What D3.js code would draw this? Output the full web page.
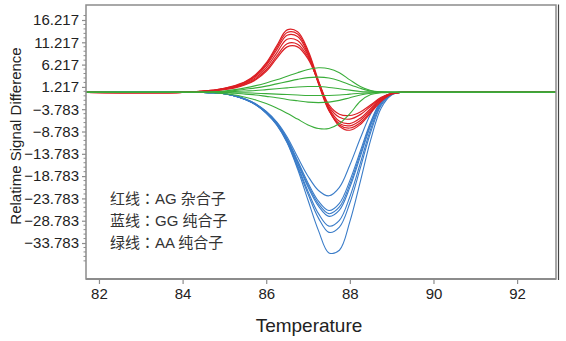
<!DOCTYPE html>
<html>
<head>
<meta charset="utf-8">
<script src="https://cdn.jsdelivr.net/npm/d3@7"></script>
<style>
  html, body { margin: 0; padding: 0; background: #fff; }
  svg { display: block; font-family: "Liberation Sans", Arial, "Noto Sans CJK SC", sans-serif; }
</style>
</head>
<body>
<svg id="chart" width="566" height="341"></svg>
<script>
// ---- data ----
const temps = [81.7, 84.0, 84.5, 84.75, 85.0, 85.25, 85.5, 85.75, 86.0, 86.25, 86.5, 86.75, 87.0, 87.25, 87.5, 87.75, 88.0, 88.25, 88.5, 88.75, 89.0, 89.25, 89.75, 92.93];

const redSeries = [
  [0, 0, 0.3, 0.5, 0.9, 1.5, 2.4, 4.0, 6.6, 10.4, 14.0, 13.6, 9.4, 2.6, -3.8, -7.6, -8.5, -7.2, -4.6, -2.0, -0.4, 0, 0, 0],
  [0, 0, 0.3, 0.5, 0.9, 1.4, 2.3, 3.8, 6.3, 10.0, 13.4, 13.1, 9.0, 2.2, -4.0, -7.3, -8.0, -6.8, -4.3, -1.8, -0.3, 0, 0, 0],
  [0, 0, 0.2, 0.4, 0.8, 1.3, 2.1, 3.6, 6.0, 9.5, 12.8, 12.5, 8.6, 1.9, -4.1, -7.0, -7.5, -6.3, -3.9, -1.6, -0.3, 0, 0, 0],
  [0, 0, 0.2, 0.4, 0.8, 1.2, 2.0, 3.3, 5.5, 8.8, 11.9, 11.6, 8.3, 2.1, -3.6, -6.5, -7.0, -5.8, -3.6, -1.5, -0.3, 0, 0, 0],
  [0, 0, 0.2, 0.4, 0.7, 1.1, 1.8, 3.0, 5.0, 8.1, 10.9, 10.8, 7.9, 2.3, -3.2, -5.6, -6.0, -5.0, -3.1, -1.3, -0.2, 0, 0, 0],
  [0, 0, 0.2, 0.3, 0.6, 1.0, 1.7, 2.8, 4.7, 7.6, 10.2, 10.2, 7.5, 2.4, -2.8, -4.9, -5.2, -4.4, -2.8, -1.1, -0.2, 0, 0, 0]
];

const blueSeries = [
  [0, 0, 0, -0.1, -0.3, -0.8, -1.5, -2.6, -4.3, -6.6, -10.0, -14.5, -18.8, -22.0, -23.2, -21.3, -16.3, -10.3, -4.8, -1.3, -0.2, 0, 0, 0],
  [0, 0, 0, -0.1, -0.3, -0.8, -1.5, -2.6, -4.3, -6.8, -10.4, -15.3, -20.3, -24.4, -26.5, -24.9, -19.8, -13.2, -6.6, -1.9, -0.3, 0, 0, 0],
  [0, 0, 0, -0.1, -0.3, -0.8, -1.6, -2.7, -4.4, -6.9, -10.6, -15.6, -20.8, -25.0, -27.2, -25.7, -20.6, -13.8, -7.0, -2.1, -0.3, 0, 0, 0],
  [0, 0, 0, -0.1, -0.3, -0.8, -1.6, -2.7, -4.5, -7.0, -10.8, -15.9, -21.2, -25.5, -27.8, -26.4, -21.3, -14.4, -7.4, -2.3, -0.4, 0, 0, 0],
  [0, 0, 0, -0.1, -0.3, -0.8, -1.6, -2.8, -4.6, -7.2, -11.0, -16.4, -22.2, -27.2, -30.0, -28.7, -23.4, -15.9, -8.2, -2.6, -0.4, 0, 0, 0],
  [0, 0, 0, -0.1, -0.3, -0.8, -1.6, -2.8, -4.6, -7.2, -11.2, -16.8, -22.8, -28.2, -31.4, -30.2, -24.8, -17.0, -8.9, -2.9, -0.5, 0, 0, 0],
  [0, 0, 0, -0.1, -0.3, -0.8, -1.6, -2.8, -4.7, -7.3, -11.3, -17.2, -24.2, -31.0, -36.0, -35.4, -29.0, -20.0, -10.6, -3.5, -0.6, 0, 0, 0]
];

const greenSeries = [
  [0, 0, 0, 0.1, 0.3, 0.6, 1.0, 1.5, 2.1, 2.8, 3.6, 4.4, 5.1, 5.5, 5.3, 4.4, 2.8, 1.3, 0.4, 0.1, 0, 0, 0, 0],
  [0, 0, 0, 0.1, 0.2, 0.4, 0.7, 1.0, 1.4, 1.9, 2.4, 2.9, 3.3, 3.4, 3.2, 2.6, 1.7, 0.9, 0.3, 0.1, 0, 0, 0, 0],
  [0, 0, 0, 0, 0.1, 0.2, 0.3, 0.4, 0.6, 0.8, 1.0, 1.2, 1.3, 1.3, 1.1, 0.8, 0.5, 0.2, 0.1, 0, 0, 0, 0, 0],
  [0, 0, 0, 0, 0, -0.1, -0.1, -0.2, -0.3, -0.4, -0.5, -0.6, -0.7, -0.7, -0.7, -0.6, -0.4, -0.2, -0.1, 0, 0, 0, 0, 0],
  [0, 0, 0, 0, -0.1, -0.2, -0.4, -0.6, -0.9, -1.2, -1.6, -1.9, -2.2, -2.3, -2.2, -1.8, -1.2, -0.6, -0.2, 0, 0, 0, 0, 0],
  [0, 0, 0, -0.1, -0.3, -0.6, -1.1, -1.7, -2.5, -3.5, -4.7, -6.0, -7.3, -8.1, -8.1, -7.0, -4.8, -2.0, -0.5, -0.1, 0, 0, 0, 0]
];

const xTickValues = [82, 84, 86, 88, 90, 92];
const yTickValues = [16.217, 11.217, 6.217, 1.217, -3.783, -8.783, -13.783, -18.783, -23.783, -28.783, -33.783];
const legendLines = ["红线：AG 杂合子", "蓝线：GG 纯合子", "绿线：AA 纯合子"];
const xTitle = "Temperature";
const yTitle = "Relatime Signal Difference";

// ---- layout ----
const svg = d3.select("#chart");
const L = 86, T = 5, R = 556, B = 279;

const x = d3.scaleLinear().domain([81.69, 92.93]).range([L, R]);
const y = d3.scaleLinear().domain([-41.85, 19.58]).range([B, T]);

const line = d3.line()
  .x((d, i) => x(temps[i]))
  .y(d => y(d))
  .curve(d3.curveCatmullRom.alpha(0.5));

const plot = svg.append("g");

function drawSeries(series, color, w) {
  plot.selectAll(null).data(series).enter().append("path")
    .attr("d", line)
    .attr("fill", "none")
    .attr("stroke", color)
    .attr("stroke-width", w);
}
drawSeries(blueSeries, "#3a7cc8", 1.1);
drawSeries(redSeries, "#dc1f24", 1.2);
drawSeries(greenSeries, "#3aad3a", 1.1);

// frame
svg.append("rect")
  .attr("x", L).attr("y", T).attr("width", R - L).attr("height", B - T)
  .attr("fill", "none").attr("stroke", "#8c8c8c").attr("stroke-width", 1.5);
svg.append("line")
  .attr("x1", R + 2.5).attr("x2", R + 2.5).attr("y1", T - 0.5).attr("y2", B + 1)
  .attr("stroke", "#444").attr("stroke-width", 1.2);
svg.append("line")
  .attr("x1", L).attr("x2", R).attr("y1", B).attr("y2", B)
  .attr("stroke", "#8c8c8c").attr("stroke-width", 2);

// y axis
const yAxis = d3.axisLeft(y).tickValues(yTickValues).tickSize(4).tickPadding(3)
  .tickFormat(d => d3.format(".3f")(d));
const gy = svg.append("g").attr("transform", `translate(${L},0)`).call(yAxis);
gy.select(".domain").remove();
gy.selectAll(".tick line").attr("stroke", "#8c8c8c").attr("stroke-width", 1.2);
gy.selectAll(".tick text").attr("fill", "#222").style("font-size", "15px");

// minor y ticks
const minor = d3.range(17.217, -38.3, -1).filter(v => !yTickValues.some(t => Math.abs(t - v) < 1e-6));
svg.append("g").selectAll("line").data(minor).enter().append("line")
  .attr("x1", L - 2.5).attr("x2", L)
  .attr("y1", d => y(d)).attr("y2", d => y(d))
  .attr("stroke", "#8c8c8c").attr("stroke-width", 1);

// x axis
const xAxis = d3.axisBottom(x).tickValues(xTickValues).tickSize(5).tickPadding(4).tickFormat(d3.format("d"));
const gx = svg.append("g").attr("transform", `translate(0,${B})`).call(xAxis);
gx.select(".domain").remove();
gx.selectAll(".tick line").attr("stroke", "#8c8c8c").attr("stroke-width", 1.2);
gx.selectAll(".tick text").attr("fill", "#222").style("font-size", "15px");

// titles
svg.append("text")
  .attr("x", 309).attr("y", 332)
  .attr("text-anchor", "middle")
  .attr("fill", "#222")
  .style("font-size", "19px")
  .text(xTitle);

svg.append("text")
  .attr("transform", "translate(21,136) rotate(-90)")
  .attr("text-anchor", "middle")
  .attr("fill", "#222")
  .style("font-size", "15px")
  .text(yTitle);

// legend
svg.append("g").selectAll("text").data(legendLines).enter().append("text")
  .attr("x", 110)
  .attr("y", (d, i) => 204 + i * 21.8)
  .attr("fill", "#333")
  .style("font-family", "'Liberation Sans', Arial, 'Noto Sans CJK TC', sans-serif")
  .style("font-size", "15px")
  .text(d => d);
</script>
</body>
</html>
